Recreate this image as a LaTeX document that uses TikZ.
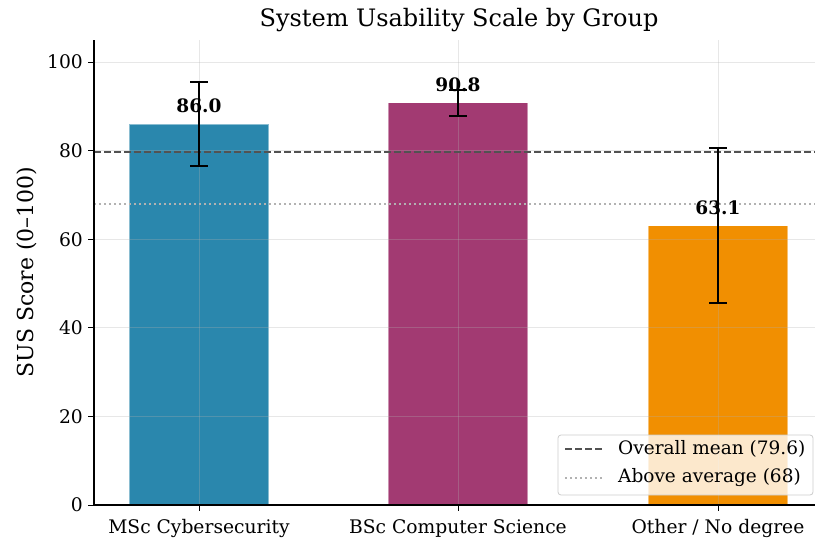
\documentclass[tikz,border=0pt]{standalone}
\usepackage{fontspec}
\setmainfont{DejaVu Serif}
\definecolor{cmsc}{HTML}{2A87AD}
\definecolor{cbsc}{HTML}{A23A72}
\definecolor{coth}{HTML}{F18F01}
\tikzset{
  gridline/.style={draw=black!31, opacity=0.3, line width=0.8pt},
  bar/.style={draw=white, draw opacity=0.45, line width=1.2pt},
  errbar/.style={draw=black, line width=2pt},
  tick/.style={draw=black, line width=1pt},
  ticklab/.style={font=\fontsize{18.7}{18.7}\selectfont, inner sep=0pt},
  leglab/.style={font=\fontsize{18.5}{18.5}\selectfont, inner sep=0pt},
  vallab/.style={font=\fontsize{18.5}{18.5}\selectfont\bfseries, inner sep=0pt, anchor=south},
  meanline/.style={draw=black!68, line width=1.9pt, dash pattern=on 7pt off 3pt},
  avgline/.style={draw=black!30, line width=1.6pt, dash pattern=on 1.6pt off 3.4pt},
}
\begin{document}
\begin{tikzpicture}[x=1pt,y=-1pt]
\useasboundingbox (0,0) rectangle (815,541);
% bars
\fill[cmsc, bar] (129,505) rectangle (269,124.0);
\fill[cbsc, bar] (388,505) rectangle (528,102.7);
\fill[coth, bar] (648,505) rectangle (788,225.5);
% grid
\foreach \y in {416.4,327.8,239.2,150.6,62} \draw[gridline] (94,\y) -- (815,\y);
\foreach \x in {199,458,718} \draw[gridline] (\x,40) -- (\x,505);
% reference lines
\draw[meanline] (94,152.4) -- (815,152.4);
\draw[avgline] (94,203.8) -- (815,203.8);
% value labels
\node[vallab] (l1) at (199,113) {86.0};
\node[vallab] (l2) at (458,91.5) {90.8};
\node[vallab] (l3) at (718,215) {63.1};
% error bars
\draw[errbar] (199,82.4) -- (199,165.7);
\draw[errbar] (190,82.4) -- (208,82.4);
\draw[errbar] (190,165.7) -- (208,165.7);
\draw[errbar] (458,89.5) -- (458,116.0);
\draw[errbar] (449,89.5) -- (467,89.5);
\draw[errbar] (449,116.0) -- (467,116.0);
\draw[errbar] (718,148.4) -- (718,302.5);
\draw[errbar] (709,148.4) -- (727,148.4);
\draw[errbar] (709,302.5) -- (727,302.5);
% spines
\draw[line width=1.1pt] (94,40) -- (94,505) -- (815,505);
% y ticks
\foreach \y/\t in {505/0,416.4/20,327.8/40,239.2/60,150.6/80,62/100} {
  \draw[tick] (88,\y) -- (94,\y);
  \node[ticklab, anchor=east] at (83,\y) {\t};
}
% x ticks
\foreach \x in {199,458,718} \draw[tick] (\x,505) -- (\x,511);
\node[ticklab, anchor=base] (x1) at (199,533) {MSc Cybersecurity};
\node[ticklab, anchor=base] (x2) at (458,533) {BSc Computer Science};
\node[ticklab, anchor=base] (x3) at (718,533) {Other / No degree};
% axis label and title
\node[font=\fontsize{22}{22}\selectfont, rotate=90, inner sep=0pt] (yl) at (27,272) {SUS Score (0–100)};
\node[font=\fontsize{24}{24}\selectfont, inner sep=0pt] (title) at (459,20) {System Usability Scale by Group};
% legend
\filldraw[draw=black!20, fill=white, fill opacity=0.8, rounded corners=3pt, line width=0.8pt] (558,435) rectangle (813,495);
\draw[meanline] (565,449) -- (603,449);
\draw[avgline] (565,478) -- (603,478);
\node[leglab, anchor=west] (lg1) at (618,449) {Overall mean (79.6)};
\node[leglab, anchor=west] (lg2) at (618,478) {Above average (68)};
\end{tikzpicture}
\end{document}
